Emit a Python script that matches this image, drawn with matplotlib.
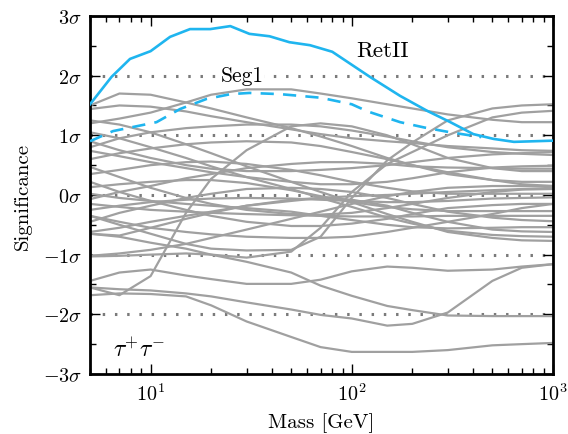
import matplotlib
matplotlib.use("Agg")
import matplotlib.pyplot as plt
from matplotlib.ticker import FixedLocator, NullFormatter

plt.rcParams["font.family"] = "serif"
plt.rcParams["font.serif"] = ["cmr10", "DejaVu Serif"]
plt.rcParams["mathtext.fontset"] = "cm"
plt.rcParams["axes.formatter.use_mathtext"] = True

# mass grid shared by the background dwarfs (GeV)
mass = [5, 7, 10, 15, 20, 30, 50, 70, 100, 150, 200, 300, 500, 700, 1000]

# background dwarfs, local significance in sigma
dw_01 = [1.50, 1.70, 1.68, 1.55, 1.45, 1.30, 1.12, 0.98, 0.82, 0.62, 0.50, 0.38, 0.25, 0.18, 0.15]
dw_02 = [1.20, 1.28, 1.38, 1.55, 1.68, 1.77, 1.77, 1.70, 1.62, 1.52, 1.45, 1.35, 1.26, 1.22, 1.22]
dw_03 = [-0.35, -0.50, -0.65, -0.82, -0.90, -0.93, -0.92, -0.70, -0.05, 0.58, 0.88, 1.25, 1.45, 1.50, 1.52]
dw_04 = [-1.55, -1.68, -1.36, -0.30, 0.27, 0.75, 1.15, 1.20, 1.15, 1.00, 0.85, 0.62, 0.45, 0.40, 0.40]
dw_05 = [-0.65, -0.70, -0.80, -0.90, -1.00, -1.05, -0.95, -0.55, 0.05, 0.52, 0.72, 1.00, 1.30, 1.38, 1.41]
dw_06 = [-1.03, -1.02, -1.00, -0.98, -1.00, -1.12, -1.30, -1.52, -1.69, -1.86, -1.93, -2.02, -2.03, -2.03, -2.03]
dw_07 = [-1.44, -1.30, -1.25, -1.35, -1.41, -1.49, -1.49, -1.42, -1.28, -1.20, -1.22, -1.27, -1.25, -1.20, -1.16]
dw_08 = [-1.55, -1.58, -1.60, -1.65, -1.70, -1.80, -1.92, -2.01, -2.07, -2.19, -2.16, -1.97, -1.44, -1.22, -1.16]
dw_09 = [-1.68, -1.65, -1.66, -1.70, -1.85, -2.12, -2.38, -2.55, -2.63, -2.63, -2.63, -2.60, -2.52, -2.50, -2.48]
dw_10 = [1.44, 1.50, 1.48, 1.40, 1.32, 1.22, 1.10, 1.02, 0.95, 0.90, 0.87, 0.82, 0.78, 0.75, 0.74]
dw_11 = [0.80, 0.95, 1.05, 1.12, 1.15, 1.18, 1.18, 1.15, 1.08, 0.98, 0.90, 0.80, 0.72, 0.69, 0.67]
dw_12 = [0.74, 0.65, 0.55, 0.45, 0.38, 0.30, 0.22, 0.18, 0.18, 0.22, 0.28, 0.38, 0.46, 0.48, 0.49]
dw_13 = [0.60, 0.70, 0.78, 0.85, 0.88, 0.90, 0.88, 0.82, 0.72, 0.60, 0.50, 0.35, 0.25, 0.22, 0.22]
dw_14 = [0.47, 0.30, 0.12, -0.05, -0.15, -0.25, -0.32, -0.33, -0.30, -0.22, -0.15, -0.05, 0.05, 0.09, 0.10]
dw_15 = [0.35, 0.42, 0.50, 0.55, 0.56, 0.52, 0.42, 0.33, 0.22, 0.12, 0.06, 0.02, 0.02, 0.02, 0.02]
dw_16 = [0.22, 0.05, -0.10, -0.25, -0.35, -0.45, -0.52, -0.52, -0.48, -0.40, -0.32, -0.22, -0.17, -0.15, -0.15]
dw_17 = [0.13, 0.18, 0.22, 0.25, 0.25, 0.20, 0.08, -0.02, -0.12, -0.20, -0.24, -0.27, -0.27, -0.27, -0.27]
dw_18 = [-0.07, 0.05, 0.15, 0.28, 0.35, 0.45, 0.52, 0.55, 0.55, 0.52, 0.48, 0.46, 0.45, 0.44, 0.44]
dw_19 = [-0.15, -0.20, -0.25, -0.28, -0.30, -0.32, -0.34, -0.35, -0.36, -0.36, -0.36, -0.35, -0.35, -0.35, -0.35]
dw_20 = [-0.45, -0.30, -0.18, -0.05, 0.02, 0.10, 0.12, 0.10, 0.05, -0.05, -0.15, -0.28, -0.38, -0.42, -0.44]
dw_21 = [0.02, -0.05, -0.10, -0.15, -0.18, -0.22, -0.28, -0.35, -0.42, -0.50, -0.54, -0.56, -0.55, -0.54, -0.54]
dw_22 = [-0.65, -0.68, -0.55, -0.40, -0.30, -0.18, -0.08, -0.05, -0.08, -0.18, -0.30, -0.45, -0.58, -0.61, -0.62]
dw_23 = [1.05, 0.95, 0.80, 0.62, 0.48, 0.30, 0.10, -0.05, -0.20, -0.38, -0.48, -0.60, -0.67, -0.69, -0.70]
dw_24 = [1.25, 1.18, 1.05, 0.85, 0.70, 0.48, 0.22, 0.05, -0.12, -0.32, -0.45, -0.62, -0.72, -0.76, -0.77]
dw_25 = [-1.02, -0.98, -0.92, -0.82, -0.72, -0.58, -0.40, -0.28, -0.15, -0.02, 0.05, 0.12, 0.15, 0.15, 0.15]
dw_26 = [0.90, 0.75, 0.62, 0.50, 0.44, 0.40, 0.40, 0.42, 0.45, 0.50, 0.55, 0.62, 0.68, 0.70, 0.72]
dw_27 = [-0.35, -0.45, -0.55, -0.62, -0.66, -0.70, -0.72, -0.72, -0.70, -0.62, -0.55, -0.45, -0.32, -0.22, -0.15]
dw_28 = [-0.62, -0.55, -0.45, -0.35, -0.28, -0.18, -0.10, -0.05, -0.02, 0.00, 0.02, 0.05, 0.08, 0.10, 0.12]
dw_29 = [-0.25, -0.18, -0.12, -0.08, -0.06, -0.05, -0.06, -0.08, -0.10, -0.12, -0.12, -0.10, -0.06, -0.05, -0.04]

background = [dw_01, dw_02, dw_03, dw_04, dw_05, dw_06, dw_07, dw_08, dw_09, dw_10,
              dw_11, dw_12, dw_13, dw_14, dw_15, dw_16, dw_17, dw_18, dw_19, dw_20,
              dw_21, dw_22, dw_23, dw_24, dw_25, dw_26, dw_27, dw_28, dw_29]

# Reticulum II
retii_mass = [5, 6.4, 7.9, 10, 12.5, 15.7, 19.8, 24.9, 31, 39, 49, 62, 80, 123, 174, 237, 309, 402, 506, 640, 1000]
retii_sig = [1.52, 1.98, 2.28, 2.41, 2.65, 2.78, 2.78, 2.83, 2.70, 2.66, 2.56, 2.51, 2.40, 1.98, 1.66, 1.41, 1.22, 1.02, 0.94, 0.89, 0.91]

# Segue 1
seg1_mass = [5, 6.5, 8.2, 10.7, 14, 19, 25, 31, 44, 70, 100, 120, 174, 230, 309, 440]
seg1_sig = [0.90, 1.07, 1.14, 1.22, 1.44, 1.61, 1.69, 1.71, 1.69, 1.63, 1.52, 1.40, 1.22, 1.13, 1.05, 0.97]

sigma_ticks = [-3, -2, -1, 0, 1, 2, 3]
sigma_labels = [r"$-3\sigma$", r"$-2\sigma$", r"$-1\sigma$", r"$0\sigma$", r"$1\sigma$", r"$2\sigma$", r"$3\sigma$"]

gray = "#a0a0a0"
blue = "#1fb5ef"

fig = plt.figure(figsize=(5.68, 4.35), dpi=100)
ax = fig.add_axes([0.1585, 0.138, 0.815, 0.823])

# dotted reference levels
for lvl in [-2, -1, 0, 1, 2]:
    ax.axhline(lvl, color="#7a7a7a", lw=2.2, ls=(0, (0.8, 3.2)), zorder=1)

for sig in background:
    ax.plot(mass, sig, color=gray, lw=1.6, zorder=2)

ax.plot(retii_mass, retii_sig, color=blue, lw=1.9, zorder=4)
ax.plot(seg1_mass, seg1_sig, color=blue, lw=1.9, ls=(0, (5, 3.5)), zorder=4)

ax.text(143, 2.42, "RetII", fontsize=16.5, ha="center", va="center", zorder=5)
ax.text(28.5, 2.0, "Seg1", fontsize=15.5, ha="center", va="center", zorder=5,
        bbox=dict(facecolor="white", edgecolor="none", pad=0.5))
ax.text(0.05, 0.07, r"$\tau^{+}\tau^{-}$", transform=ax.transAxes, fontsize=17,
        ha="left", va="center")

ax.set_xscale("log")
ax.set_xlim(5, 1000)
ax.set_ylim(-3, 3)
ax.set_yticks(sigma_ticks)
ax.set_yticklabels(sigma_labels)
ax.yaxis.set_minor_locator(FixedLocator([-2.5, -1.5, -0.5, 0.5, 1.5, 2.5]))
ax.xaxis.set_minor_formatter(NullFormatter())

ax.set_xlabel("Mass [GeV]", fontsize=15, labelpad=6)
ax.set_ylabel("Significance", fontsize=15, labelpad=8)

for s in ax.spines.values():
    s.set_linewidth(2.0)
ax.tick_params(which="both", direction="in", top=True, right=True, labelsize=14.5, width=1.0)
ax.tick_params(which="major", length=7, pad=6)
ax.tick_params(which="minor", length=4)

fig.savefig("out.png", dpi=100)
